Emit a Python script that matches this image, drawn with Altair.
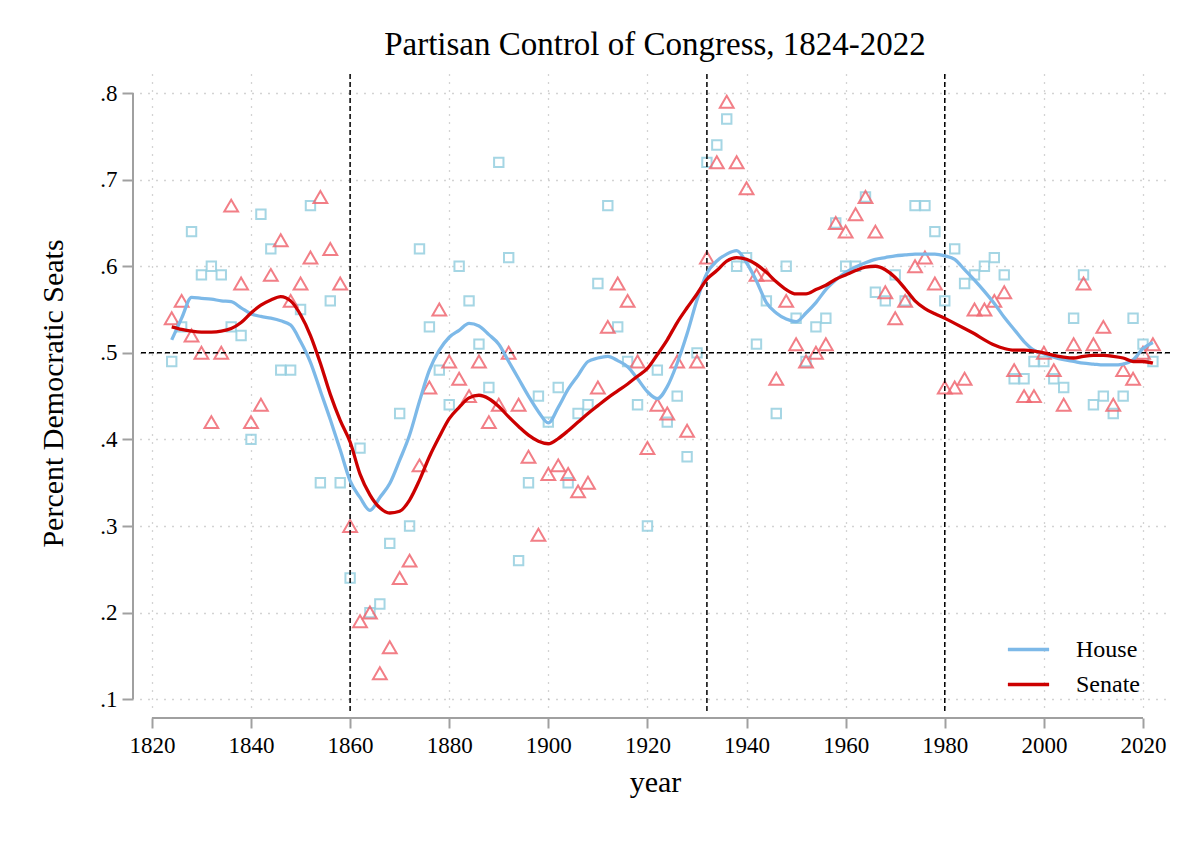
import altair as alt
import pandas as pd

years = list(range(1824, 2023, 2))

house_pts = [
    .49, .53, .64, .59, .60, .59, .53, .52, .40, .66, .62, .48, .48, .55, .67, .35, .56, .35,
    .24, .39, .20, .21, .28, .43, .30, .62, .53, .48, .44, .60, .56, .51, .46, .72, .61, .26, .35, .45,
    .42, .46, .35, .43, .44, .58, .67, .53, .49, .44, .30, .48, .42, .45, .38, .50,
    .72, .74, .77, .60, .61, .51, .56, .43, .60, .54, .49, .53, .54, .65, .60, .60, .68, .57, .56, .59, .56, .67, .67, .64,
    .56, .62, .58, .59, .60, .61, .59, .47, .47, .49, .49, .47, .46, .54, .59, .44, .45, .43, .45, .54, .51, .49,
]

senate_pts = [
    .54, .56, .52, .50, .42, .50, .67, .58, .42, .44, .59, .63, .56, .58, .61, .68, .62, .58,
    .30, .19, .20, .13, .16, .24, .26, .37, .46, .55, .49, .47, .45, .49, .42, .44, .50, .44, .38, .29,
    .36, .37, .36, .34, .35, .46, .53, .58, .56, .49, .39, .44, .43, .49, .41, .49,
    .61, .72, .79, .72, .69, .59, .59, .47, .56, .51, .49, .50, .51, .65, .64, .66, .68, .64, .57, .54, .56, .60, .61, .58,
    .46, .46, .47, .55, .55, .56, .57, .48, .45, .45, .50, .48, .44, .51, .58, .51, .53, .44, .48, .47, .50, .51,
]

house_smooth = [
    .515, .540, .564, .563, .562, .560, .559, .552, .545, .542, .540, .537, .532, .513, .489, .456, .423, .388,
    .352, .333, .318, .333, .349, .376, .405, .444, .480, .503, .518, .526, .534, .531, .521, .510, .490, .470, .450, .432,
    .419, .437, .458, .474, .490, .494, .496, .491, .484, .470, .455, .447, .461, .488, .522, .561,
    .592, .606, .614, .618, .604, .583, .558, .546, .539, .536, .546, .558, .573, .584, .593, .599, .604, .608, .610, .612, .613, .614, .614, .614,
    .612, .608, .596, .584, .571, .557, .541, .527, .513, .503, .499, .495, .492, .490, .488, .487, .486, .486, .487, .492, .505, .512,
]

senate_smooth = [
    .530, .527, .525, .524, .524, .525, .528, .535, .546, .555, .561, .565, .560, .544, .520, .488, .452, .422,
    .397, .360, .336, .321, .315, .317, .330, .353, .380, .403, .424, .437, .448, .451, .447, .438, .426, .415, .405, .398,
    .395, .401, .410, .420, .430, .439, .448, .456, .464, .473, .482, .498, .515, .535, .552, .568,
    .585, .595, .606, .610, .608, .602, .593, .582, .573, .568, .568, .573, .578, .585, .590, .595, .599, .600, .596, .587, .574, .560, .551, .545,
    .540, .534, .528, .522, .515, .509, .505, .503, .503, .502, .500, .497, .495, .494, .496, .497, .497, .496, .494, .490, .490, .488,
]

x_ticks = list(range(1820, 2021, 20))
y_ticks = [.1, .2, .3, .4, .5, .6, .7, .8]
era_years = [1860, 1932, 1980]
even_line = [.5]
series_names = ["House", "Senate"]
series_colors = ["#7db9e8", "#cc0000"]

FONT = "Liberation Serif"
W, H = 1030, 638

pts_h = pd.DataFrame({"year": years, "value": house_pts})
pts_s = pd.DataFrame({"year": years, "value": senate_pts})
smooth = pd.DataFrame({
    "year": years + years,
    "value": house_smooth + senate_smooth,
    "series": ["House"] * len(years) + ["Senate"] * len(years),
})

xscale = alt.Scale(domain=[1817.6, 2025.45], nice=False, zero=False)
yscale = alt.Scale(domain=[0.0852, 0.822], nice=False, zero=False)

xaxis = alt.Axis(values=x_ticks, format="d", domain=False, offset=6, tickSize=10,
                 tickColor="#a0a0a0", tickWidth=2, labelFontSize=23, labelFont=FONT,
                 labelColor="black", labelPadding=6, title="year", titleFont=FONT,
                 titleFontSize=30, titleFontWeight="normal", titleColor="black",
                 titlePadding=10, grid=True, gridDash=[1, 7], gridColor="#a8a8a8",
                 gridWidth=1.3)
yaxis = alt.Axis(values=y_ticks, domain=False, offset=7, tickSize=11,
                 tickColor="#a0a0a0", tickWidth=2, labelFontSize=23, labelFont=FONT,
                 labelColor="black", labelPadding=5,
                 labelExpr="replace(format(datum.value, '.1f'), '0.', '.')",
                 title="Percent Democratic Seats", titleFont=FONT, titleFontSize=30,
                 titleFontWeight="normal", titleColor="black", titlePadding=31,
                 grid=True, gridDash=[1, 7], gridColor="#a8a8a8", gridWidth=1.3)

base_x = alt.X("year:Q", scale=xscale, axis=xaxis)
base_y = alt.Y("value:Q", scale=yscale, axis=yaxis)

house_layer = alt.Chart(pts_h).mark_point(
    shape="square", size=88, filled=False, stroke="#96cfe0", strokeWidth=2, opacity=0.85
).encode(x=base_x, y=base_y)

senate_layer = alt.Chart(pts_s).mark_point(
    shape="triangle-up", size=190, filled=False, stroke="#f06872", strokeWidth=2, opacity=0.85
).encode(x=alt.X("year:Q", scale=xscale), y=alt.Y("value:Q", scale=yscale))

lines = alt.Chart(smooth).mark_line(strokeWidth=3.3, interpolate="monotone").encode(
    x=alt.X("year:Q", scale=xscale),
    y=alt.Y("value:Q", scale=yscale),
    color=alt.Color("series:N", scale=alt.Scale(domain=series_names, range=series_colors),
                    legend=alt.Legend(title=None, orient="none", legendX=866, legendY=553,
                                      symbolType="stroke", symbolStrokeWidth=3.3,
                                      symbolSize=1700, labelFont=FONT, labelFontSize=24,
                                      labelColor="black", labelOffset=25, rowPadding=-6,
                                      padding=0)),
)

vrules = alt.Chart(pd.DataFrame({"year": era_years})).mark_rule(
    color="black", strokeDash=[5, 3], strokeWidth=1.5
).encode(x=alt.X("year:Q", scale=xscale))

hrule = alt.Chart(pd.DataFrame({"value": even_line})).mark_rule(
    color="black", strokeDash=[5, 3], strokeWidth=1.5
).encode(y=alt.Y("value:Q", scale=yscale))

x_domain_line = alt.Chart(pd.DataFrame({"a": [x_ticks[0]], "b": [x_ticks[-1]]})).mark_rule(
    color="#a0a0a0", strokeWidth=2, clip=False
).encode(x=alt.X("a:Q", scale=xscale), x2="b:Q", y=alt.value(H + 6))

y_domain_line = alt.Chart(pd.DataFrame({"a": [y_ticks[0]], "b": [y_ticks[-1]]})).mark_rule(
    color="#a0a0a0", strokeWidth=2, clip=False
).encode(y=alt.Y("a:Q", scale=yscale), y2="b:Q", x=alt.value(-7))

chart = alt.layer(
    house_layer, senate_layer, vrules, hrule, lines, x_domain_line, y_domain_line
).properties(
    width=W, height=H,
    background="white",
    title=alt.TitleParams("Partisan Control of Congress, 1824-2022", font=FONT,
                          fontSize=33, fontWeight="normal", color="black", offset=11),
    autosize=alt.AutoSizeParams(type="none"),
    padding={"left": 132, "top": 66, "right": 20, "bottom": 110},
).configure_view(stroke=None)

chart.save("out.html", embed_options={"renderer": "svg", "actions": False})
